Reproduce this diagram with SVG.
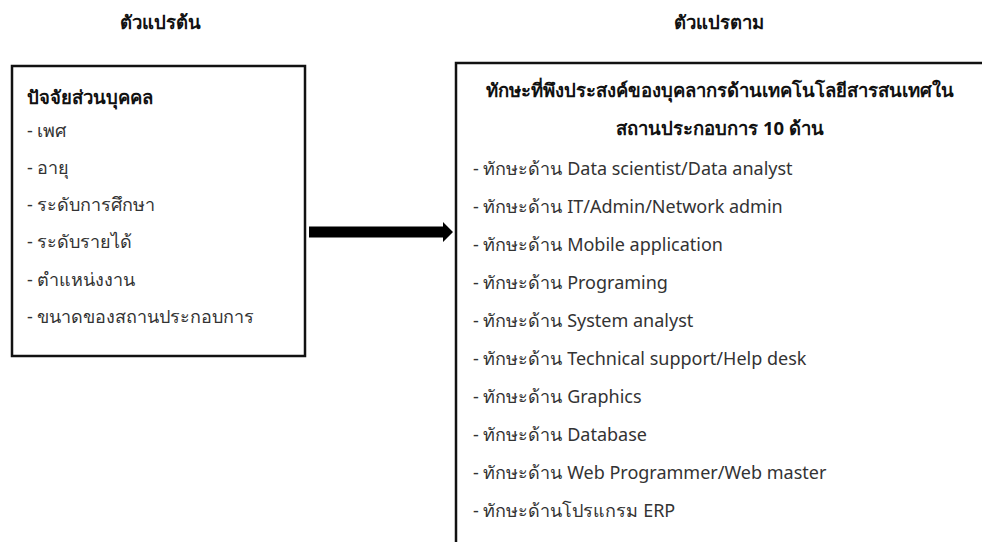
<svg xmlns="http://www.w3.org/2000/svg" width="982" height="542" viewBox="0 0 982 542">
<style>
text{font-family:"Noto Sans","Liberation Sans",sans-serif;fill:#111;}
.h{font-size:18.5px;font-weight:bold;}
.t{font-size:18px;fill:#333;}
.box{fill:#fff;stroke:#111;stroke-width:2.5;}
</style>
<rect width="982" height="542" fill="#fff"/>
<text class="h" x="160" y="29" text-anchor="middle">ตัวแปรต้น</text>
<text class="h" x="719" y="29" text-anchor="middle">ตัวแปรตาม</text>
<g id="independent">
<rect class="box" x="12" y="66" width="293" height="290"/>
<text class="h" x="27" y="104">ปัจจัยส่วนบุคคล</text>
<text class="t" x="27" y="137">- เพศ</text>
<text class="t" x="27" y="174">- อายุ</text>
<text class="t" x="27" y="211">- ระดับการศึกษา</text>
<text class="t" x="27" y="248">- ระดับรายได้</text>
<text class="t" x="27" y="286">- ตำแหน่งงาน</text>
<text class="t" x="27" y="323">- ขนาดของสถานประกอบการ</text>
</g>
<g id="dependent">
<rect class="box" x="456" y="63" width="560" height="520"/>
<text class="h" x="720" y="97" text-anchor="middle">ทักษะที่พึงประสงค์ของบุคลากรด้านเทคโนโลยีสารสนเทศใน</text>
<text class="h" x="720" y="135" text-anchor="middle">สถานประกอบการ 10 ด้าน</text>
<text class="t" x="473" y="175">- ทักษะด้าน Data scientist/Data analyst</text>
<text class="t" x="473" y="213">- ทักษะด้าน IT/Admin/Network admin</text>
<text class="t" x="473" y="251">- ทักษะด้าน Mobile application</text>
<text class="t" x="473" y="289">- ทักษะด้าน Programing</text>
<text class="t" x="473" y="327">- ทักษะด้าน System analyst</text>
<text class="t" x="473" y="365">- ทักษะด้าน Technical support/Help desk</text>
<text class="t" x="473" y="403">- ทักษะด้าน Graphics</text>
<text class="t" x="473" y="441">- ทักษะด้าน Database</text>
<text class="t" x="473" y="479">- ทักษะด้าน Web Programmer/Web master</text>
<text class="t" x="473" y="517">- ทักษะด้านโปรแกรม ERP</text>
</g>
<g id="connectors">
<polygon points="309,226.5 443,226.5 443,222 453,232 443,242 443,237.5 309,237.5" fill="#000"/>
</g>
</svg>
